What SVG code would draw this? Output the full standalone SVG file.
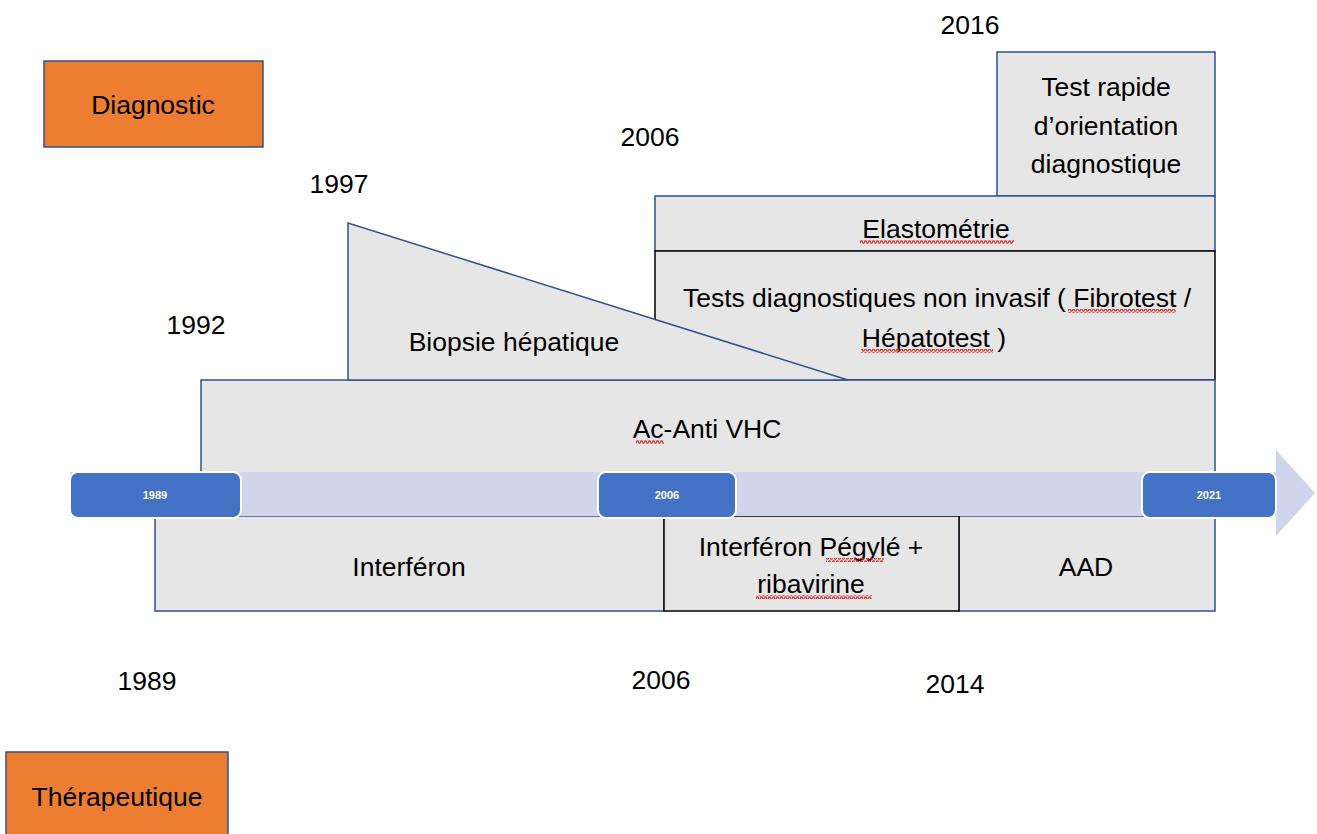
<svg xmlns="http://www.w3.org/2000/svg" width="1317" height="834" viewBox="0 0 1317 834">
<style>
text{font-family:"Liberation Sans",Arial,sans-serif;font-size:26.5px;fill:#000;text-anchor:middle}
.box{fill:#E7E6E6;stroke:#2F528F;stroke-width:1.5}
.boxk{fill:#E7E6E6;stroke:#000;stroke-width:1.5}
.orange{fill:#ED7D31;stroke:#2F528F;stroke-width:1.5}
.pill{fill:#4472C4;stroke:#fff;stroke-width:2}
.pt{font-size:11px;font-weight:bold;fill:#fff}
.sq{fill:url(#wave)}
</style>
<defs>
<pattern id="wave" width="4" height="4" patternUnits="userSpaceOnUse">
<polyline points="0,3.2 1,0.8 2,0.8 3,3.2 4,3.2" fill="none" stroke="#E32A2A" stroke-width="1.2"/>
</pattern>
</defs>
<rect width="1317" height="834" fill="#fff"/>
<g id="diagnostic"><rect class="orange" x="44" y="61" width="219" height="86"/><text x="153" y="114">Diagnostic</text></g>
<g id="therapeutique"><rect class="orange" x="6" y="752" width="222" height="90"/><text x="117" y="806">Thérapeutique</text></g>
<g id="years">
<text x="970" y="34">2016</text>
<text x="650" y="146">2006</text>
<text x="339" y="193">1997</text>
<text x="196" y="334">1992</text>
<text x="147" y="690">1989</text>
<text x="661" y="689">2006</text>
<text x="955" y="693">2014</text>
</g>
<g id="test-rapide"><rect class="box" x="997" y="52" width="218" height="144"/>
<text x="1106" y="96">Test rapide</text><text x="1106" y="135">d’orientation</text><text x="1106" y="173">diagnostique</text></g>
<g id="elastometrie"><rect class="box" x="655" y="196" width="560" height="55"/><text x="936" y="238">Elastométrie</text>
<rect class="sq" x="860" y="240" width="154" height="4"/></g>
<g id="tests-non-invasif"><rect class="boxk" x="655" y="251" width="560" height="129"/>
<text x="937" y="307">Tests diagnostiques non invasif ( Fibrotest /</text><text x="934" y="347">Hépatotest )</text>
<rect class="sq" x="1068" y="309" width="108" height="4"/><rect class="sq" x="861" y="349" width="132" height="4"/></g>
<g id="ac-anti-vhc"><rect class="box" x="201" y="380" width="1014" height="100"/><text x="707" y="438">Ac-Anti VHC</text>
<rect class="sq" x="636" y="440" width="28" height="4"/></g>
<g id="biopsie"><polygon class="box" points="348,223 348,380 848,380"/><text x="514" y="351">Biopsie hépatique</text></g>
<g id="interferon"><rect class="box" x="155" y="516" width="509" height="95"/><text x="409" y="576">Interféron</text></g>
<g id="aad"><rect class="box" x="959" y="516" width="256" height="95"/><text x="1086" y="576">AAD</text></g>
<g id="pegyle"><rect class="boxk" x="664" y="516" width="295" height="95"/>
<text x="811" y="556">Interféron Pégylé +</text><text x="811" y="593">ribavirine</text>
<rect class="sq" x="826" y="558" width="58" height="4"/><rect class="sq" x="756" y="595" width="116" height="4"/></g>
<g id="timeline">
<rect x="70" y="472" width="1206" height="44" fill="#CFD5EA"/>
<polygon points="1276,450 1315,493 1276,536" fill="#CFD5EA"/>
<rect class="pill" x="70" y="472" width="171" height="46" rx="8"/><text class="pt" x="155" y="499">1989</text>
<rect class="pill" x="598" y="472" width="138" height="46" rx="8"/><text class="pt" x="667" y="499">2006</text>
<rect class="pill" x="1142" y="472" width="134" height="46" rx="8"/><text class="pt" x="1209" y="499">2021</text>
</g>
</svg>
